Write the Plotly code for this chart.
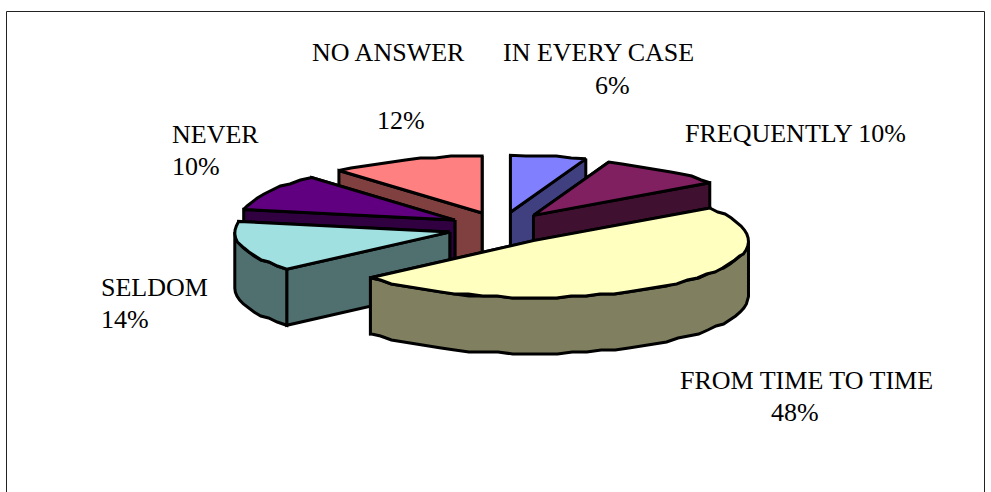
import math
import plotly.graph_objects as go

categories = ["IN EVERY CASE", "FREQUENTLY", "FROM TIME TO TIME", "SELDOM", "NEVER", "NO ANSWER"]
percent = [5.7, 9.6, 48.4, 14.3, 10.4, 11.6]

top_colors = ["#8080FF", "#802060", "#FFFFC0", "#A0E0E0", "#600080", "#FF8080"]
side_colors = ["#404080", "#401030", "#808060", "#507070", "#300040", "#804040"]

# Projection of the tilted pie onto the plot's pixel-sized axes
CX, CY = 501, 228
A, B = 215, 57
DEPTH = 56
EXPLODE_X, EXPLODE_Y = 53, 16
STEP = 4.0
LW = 3
GRID_Y = 2  # the reference's outline is a coarse, stepped polygon


def point(apex, deg, drop=0.0):
    t = math.radians(deg)
    return apex[0] + A * math.sin(t), apex[1] - B * math.cos(t) + drop


def arc(apex, a0, a1, drop=0.0):
    n = max(1, round((a1 - a0) / STEP))
    pts = []
    for i in range(n + 1):
        x, y = point(apex, a0 + (a1 - a0) * i / n, drop)
        if 0 < i < n:
            y = round(y / GRID_Y) * GRID_Y
        pts.append((x, y))
    return pts


fig = go.Figure()


def poly(pts, color):
    xs = [p[0] for p in pts] + [pts[0][0]]
    ys = [p[1] for p in pts] + [pts[0][1]]
    fig.add_trace(go.Scatter(x=xs, y=ys, mode="lines", fill="toself", fillcolor=color,
                             line=dict(color="black", width=LW), hoverinfo="skip",
                             showlegend=False))


slices = []
start = 0.0
total = sum(percent)
for i, v in enumerate(percent):
    sweep = 360.0 * v / total
    a0, a1 = start, start + sweep
    mid = math.radians((a0 + a1) / 2)
    apex = (CX + EXPLODE_X * math.sin(mid), CY - EXPLODE_Y * math.cos(mid))
    slices.append((i, a0, a1, apex))
    start = a1

# Back slices first, the big front slice last
order = sorted(slices, key=lambda s: -math.cos(math.radians((s[1] + s[2]) / 2)))
for i, a0, a1, apex in order:
    side = side_colors[i]
    ends = sorted([a0, a1], key=lambda d: -math.cos(math.radians(d)))
    for d in ends:
        o = point(apex, d)
        poly([apex, o, (o[0], o[1] + DEPTH), (apex[0], apex[1] + DEPTH)], side)
    lo, hi = max(a0, 90.0), min(a1, 270.0)
    if hi > lo:
        upper = arc(apex, lo, hi)
        lower = arc(apex, lo, hi, DEPTH)
        poly(upper + lower[::-1], side)
    poly([apex] + arc(apex, a0, a1), top_colors[i])

pct = [f"{round(v)}%" for v in percent]
text_lines = [
    (categories[5], 312, 52), (pct[5], 377, 120),
    (categories[0], 503, 52), (pct[0], 595, 85),
    (f"{categories[1]} {pct[1]}", 685, 133),
    (categories[4], 172, 134), (pct[4], 172, 166),
    (categories[3], 101, 287), (pct[3], 101, 319),
    (categories[2], 680, 380), (pct[2], 771, 412),
]
annotations = [dict(x=x, y=y, text=t, xref="x", yref="y", xanchor="left", yanchor="middle",
                    showarrow=False, borderpad=0, borderwidth=0,
                    font=dict(family="Liberation Serif", size=26, color="black"))
               for t, x, y in text_lines]

shapes = [dict(type="rect", xref="x", yref="y", x0=6.5, x1=984.5, y0=11.5, y1=520,
               line=dict(color="#222222", width=1), layer="below")]

fig.update_layout(
    width=991, height=492, autosize=False,
    margin=dict(l=0, r=0, t=0, b=0, pad=0),
    paper_bgcolor="white", plot_bgcolor="white",
    xaxis=dict(range=[0, 991], visible=False, fixedrange=True),
    yaxis=dict(range=[492, 0], visible=False, fixedrange=True),
    annotations=annotations, shapes=shapes, showlegend=False,
)
fig.write_html("out.html", config={"displayModeBar": False},
               post_script="document.body.style.margin='0';document.body.style.overflow='hidden';")
